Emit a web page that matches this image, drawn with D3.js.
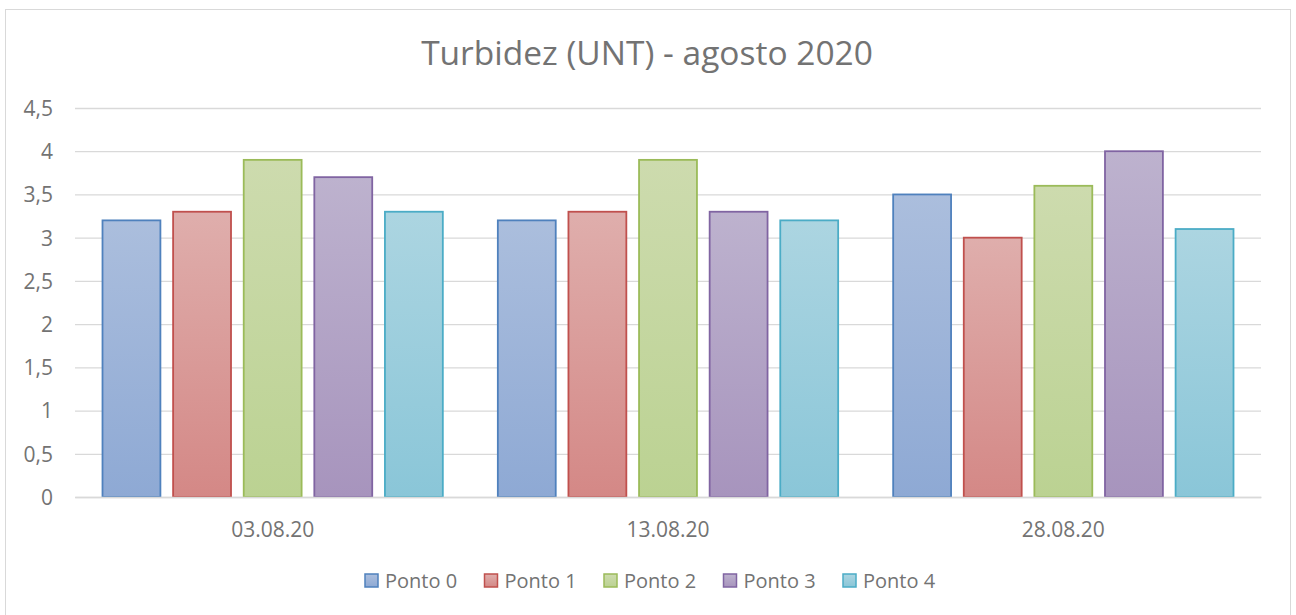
<!DOCTYPE html>
<html lang="pt">
<head>
<meta charset="UTF-8">
<title>Turbidez (UNT) - agosto 2020</title>
<script src="https://d3js.org/d3.v7.min.js"></script>
<style>
    body { margin: 0; padding: 0; background: #fff; }
    svg text { fill: #737373; font-family: "Open Sans", "Noto Sans", sans-serif; }
</style>
</head>
<body>
<div id="chart"></div>
<script>
    // data
    var categories = ["03.08.20", "13.08.20", "28.08.20"];
    var seriesNames = ["Ponto 0", "Ponto 1", "Ponto 2", "Ponto 3", "Ponto 4"];
    var ponto0 = [3.2, 3.2, 3.5];
    var ponto1 = [3.3, 3.3, 3.0];
    var ponto2 = [3.9, 3.9, 3.6];
    var ponto3 = [3.7, 3.3, 4.0];
    var ponto4 = [3.3, 3.2, 3.1];
    var yTicks = [0, 0.5, 1, 1.5, 2, 2.5, 3, 3.5, 4, 4.5];

    var seriesValues = [ponto0, ponto1, ponto2, ponto3, ponto4];

    // stroke, gradient top, gradient bottom
    var colors = [
        ["#4f81bd", "#abbedd", "#8ea9d4"],
        ["#c0504d", "#dfaeac", "#d48886"],
        ["#9bbb59", "#cddbae", "#bbd292"],
        ["#8064a2", "#bdb2ce", "#a794bd"],
        ["#4bacc6", "#acd5e1", "#8ac6d8"]
    ];

    var W = 1296, H = 615;
    var margin = { top: 108, right: 35, bottom: 118, left: 75 };
    var width = W - margin.left - margin.right;
    var height = H - margin.top - margin.bottom;

    var svg = d3.select("#chart").append("svg")
        .attr("width", W).attr("height", H);

    var defs = svg.append("defs");
    colors.forEach(function(c, i) {
        var g = defs.append("linearGradient")
            .attr("id", "grad" + i)
            .attr("x1", 0).attr("y1", 0).attr("x2", 0).attr("y2", 1);
        g.append("stop").attr("offset", "0%").attr("stop-color", c[1]);
        g.append("stop").attr("offset", "100%").attr("stop-color", c[2]);
    });

    // chart border
    svg.append("rect")
        .attr("x", 5.5).attr("y", 9.5)
        .attr("width", 1285).attr("height", 610)
        .attr("fill", "none").attr("stroke", "#d9d9d9");

    svg.append("text")
        .attr("x", 647).attr("y", 65)
        .attr("text-anchor", "middle")
        .attr("font-size", "33.5px")
        .text("Turbidez (UNT) - agosto 2020");

    var g = svg.append("g")
        .attr("transform", "translate(" + margin.left + "," + margin.top + ")");

    var x0 = d3.scaleBand().domain(categories).range([0, width]).paddingInner(0).paddingOuter(0);
    var x1 = d3.scaleBand().domain(seriesNames)
        .range([27.5, x0.bandwidth() - 27.5]).paddingInner(0.18).paddingOuter(0);
    var y = d3.scaleLinear().domain([0, 4.5]).range([height, 0]);

    var fmt = function(v) { return String(v).replace(".", ","); };

    // gridlines + y labels
    var yAxis = g.append("g")
        .call(d3.axisLeft(y).tickValues(yTicks).tickSize(-width).tickFormat(fmt));
    yAxis.attr("font-family", null).attr("font-size", null);
    yAxis.select(".domain").remove();
    yAxis.selectAll(".tick line").attr("stroke", "#d9d9d9").attr("stroke-width", 1.3);
    yAxis.selectAll(".tick text")
        .attr("x", -22).attr("dy", "0.35em")
        .attr("font-size", "21px")
        .style("fill", "#737373");

    // bars
    var groups = g.selectAll(".cat")
        .data(categories)
        .enter().append("g")
        .attr("class", "cat")
        .attr("transform", function(d) { return "translate(" + x0(d) + ",0)"; });

    groups.selectAll("rect")
        .data(function(d, ci) {
            return seriesNames.map(function(s, si) { return { s: s, si: si, v: seriesValues[si][ci] }; });
        })
        .enter().append("rect")
        .attr("x", function(d) { return x1(d.s); })
        .attr("width", x1.bandwidth())
        .attr("y", function(d) { return y(d.v); })
        .attr("height", function(d) { return height - y(d.v); })
        .attr("fill", function(d) { return "url(#grad" + d.si + ")"; })
        .attr("stroke", function(d) { return colors[d.si][0]; })
        .attr("stroke-width", 1.8);

    // x axis labels
    var xAxis = g.append("g")
        .attr("transform", "translate(0," + height + ")")
        .call(d3.axisBottom(x0).tickSize(0));
    xAxis.attr("font-family", null).attr("font-size", null);
    xAxis.select(".domain").attr("stroke", "#d9d9d9").attr("stroke-width", 1.3);
    xAxis.selectAll(".tick text")
        .attr("y", 33).attr("dy", "0.35em")
        .attr("font-size", "21px")
        .style("fill", "#737373");

    // legend
    var legend = svg.append("g").attr("transform", "translate(365,581)");
    var items = legend.selectAll("g")
        .data(seriesNames)
        .enter().append("g")
        .attr("transform", function(d, i) { return "translate(" + (i * 119.5) + ",0)"; });
    items.append("rect")
        .attr("x", 0).attr("y", -7)
        .attr("width", 13).attr("height", 13)
        .attr("fill", function(d, i) { return "url(#grad" + i + ")"; })
        .attr("stroke", function(d, i) { return colors[i][0]; })
        .attr("stroke-width", 1.5);
    items.append("text")
        .attr("x", 20).attr("y", 0).attr("dy", "0.35em")
        .attr("font-size", "20px")
        .text(function(d) { return d; });
</script>
</body>
</html>
